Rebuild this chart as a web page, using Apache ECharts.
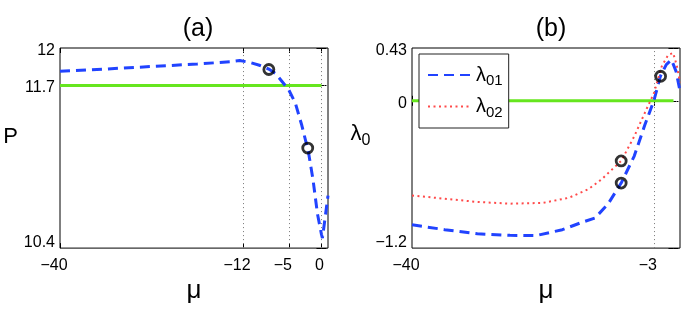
<!DOCTYPE html>
<html>
<head>
<meta charset="utf-8">
<script src="https://cdn.jsdelivr.net/npm/echarts@6/dist/echarts.min.js"></script>
<style>html,body{margin:0;padding:0;background:#fff;}#c{width:691px;height:309px;}</style>
</head>
<body>
<div id="c"></div>
<script>
// ---- data: panel (a)
const muP = [-40, -33, -26, -19, -14, -12.5, -11, -9.5, -8, -7, -6, -5, -4, -3, -2, -1.3, -0.6, 0, 0.15, 0.6, 1];
const P   = [11.814, 11.832, 11.852, 11.872, 11.89, 11.90, 11.885, 11.862, 11.83, 11.795, 11.73, 11.665, 11.56, 11.38, 11.17, 10.95, 10.67, 10.51, 10.48, 10.66, 10.82];
const muRefA = [-40, 0];
const Pref = [11.7, 11.7];
const markA_mu = [-8.05, -2.1];
const markA_P = [11.828, 11.2];
const xTicksA = [-40, -12, -5, 0];
const yTicksA = [10.4, 11.7, 12];
// ---- data: panel (b)
const mu1 = [-40, -35, -30, -25, -21, -17, -14, -12, -10, -8, -6, -4.4, -3, -2, -1.1, -0.3, 0.4, 1];
const L1  = [-1.01, -1.05, -1.083, -1.096, -1.098, -1.05, -0.99, -0.955, -0.84, -0.67, -0.45, -0.2, 0.0, 0.2, 0.295, 0.334, 0.24, 0.08];
const mu2 = [-40, -35, -30, -25, -20, -16, -13, -11, -8, -6, -4.1, -3, -1.8, -0.8, -0.05, 0.5, 1];
const L2  = [-0.771, -0.798, -0.824, -0.838, -0.832, -0.79, -0.72, -0.64, -0.49, -0.29, -0.065, 0.06, 0.28, 0.374, 0.39, 0.29, 0.15];
const muRefB = [-40, 0];
const Lref = [0, 0];
const markB_mu = [-8.0, -8.0, -1.97];
const markB_L = [-0.49, -0.67, 0.2];
const xTicksB = [-40, -3];
const yTicksB = [-1.2, 0, 0.43];
const gridLinesA = [-12, -5, 0];
const gridLinesB = [-3];

const zip = (a, b) => a.map((v, i) => [v, b[i]]);
const FONT = 'Liberation Sans, Arial, Helvetica, sans-serif';
const BLUE = '#2143ff', RED = '#ff4a4a', GREEN = '#66e61e';

function xLabel(v) {
  return v < 0 ? '{n|\u2212' + Math.abs(v) + '}' : '{p|' + v + '}';
}
function yLabelFactory(min) {
  return function (v) {
    const s = v < 0 ? '\u2212' + Math.abs(v) : String(v);
    return Math.abs(v - min) < 1e-9 ? '{lo|' + s + '}' : '{p|' + s + '}';
  };
}
const xRich = {
  n: {fontSize: 16, fontFamily: FONT, color: '#000', padding: [0, 12, 0, 0]},
  p: {fontSize: 16, fontFamily: FONT, color: '#000', padding: [0, 4, 0, 0]}
};
const yRich = {
  p: {fontSize: 16, fontFamily: FONT, color: '#000', padding: [5, 0, 0, 0]},
  lo: {fontSize: 16, fontFamily: FONT, color: '#000', padding: [0, 0, 12, 0]}
};

function mainX(grid, ticks) {
  return {
    type: 'value', gridIndex: grid, min: -40, max: 1, position: 'bottom',
    axisLine: {show: false},
    axisTick: {show: true, inside: true, length: 5, customValues: ticks, lineStyle: {color: '#000'}},
    axisLabel: {show: true, customValues: ticks, formatter: xLabel, margin: 9, rich: xRich},
    splitLine: {show: false},
    name: 'μ', nameLocation: 'middle', nameGap: 27,
    nameTextStyle: {fontSize: 26, fontFamily: FONT, color: '#000'}
  };
}
function topX(grid, ticks) {
  return {
    type: 'value', gridIndex: grid, min: -40, max: 1, position: 'top',
    axisLine: {show: false},
    axisTick: {show: true, inside: true, length: 5, customValues: ticks, lineStyle: {color: '#000'}},
    axisLabel: {show: false}, splitLine: {show: false}
  };
}
function mainY(grid, min, max, ticks, name, gap, pad) {
  return {
    type: 'value', gridIndex: grid, min: min, max: max, position: 'left',
    axisLine: {show: false},
    axisTick: {show: true, inside: true, length: 5, customValues: ticks, lineStyle: {color: '#000'}},
    axisLabel: {show: true, customValues: ticks, formatter: yLabelFactory(min), margin: 5, rich: yRich},
    splitLine: {show: false},
    name: name, nameLocation: 'middle', nameRotate: 0, nameGap: gap,
    nameTextStyle: {fontSize: 22, fontFamily: FONT, color: '#000', padding: [0, 0, pad, 0],
      rich: {l: {fontSize: 22, fontFamily: FONT, color: '#000'},
             s: {fontSize: 16, fontFamily: FONT, color: '#000', padding: [14, 0, 0, 0]}}}
  };
}
function rightY(grid, min, max, ticks) {
  return {
    type: 'value', gridIndex: grid, min: min, max: max, position: 'right',
    axisLine: {show: false},
    axisTick: {show: true, inside: true, length: 5, customValues: ticks, lineStyle: {color: '#000'}},
    axisLabel: {show: false}, splitLine: {show: false}
  };
}
function gridSeries(xi, yi, xs, ys) {
  return {
    type: 'line', xAxisIndex: xi, yAxisIndex: yi, data: [], silent: true, z: 1,
    markLine: {
      silent: true, symbol: ['none', 'none'], label: {show: false}, animation: false, z: 1,
      lineStyle: {type: [1, 3], color: '#777', width: 1},
      data: xs.map(v => ({xAxis: v})).concat(ys.map(v => ({yAxis: v})))
    }
  };
}
const circle = {
  type: 'scatter', symbol: 'circle', symbolSize: 10, z: 5, silent: true,
  itemStyle: {color: 'rgba(0,0,0,0)', borderColor: '#000', borderWidth: 2.8}
};

const chart = echarts.init(document.getElementById('c'));
chart.setOption({
  animation: false,
  backgroundColor: '#fff',
  title: [
    {text: '(a)', left: 193, top: 12, textAlign: 'center', textStyle: {fontSize: 25, fontWeight: 'normal', fontFamily: FONT, color: '#000'}},
    {text: '(b)', left: 546, top: 12, textAlign: 'center', textStyle: {fontSize: 25, fontWeight: 'normal', fontFamily: FONT, color: '#000'}}
  ],
  grid: [
    {left: 60, top: 48, width: 268, height: 204, show: true, borderColor: '#000', borderWidth: 1, backgroundColor: '#fff'},
    {left: 412, top: 48, width: 268, height: 204, show: true, borderColor: '#000', borderWidth: 1, backgroundColor: '#fff'}
  ],
  xAxis: [mainX(0, xTicksA), topX(0, xTicksA), mainX(1, xTicksB), topX(1, xTicksB)],
  yAxis: [mainY(0, 10.4, 12, yTicksA, 'P', 42, 22), rightY(0, 10.4, 12, yTicksA),
          mainY(1, -1.2, 0.43, yTicksB, '{l|λ}{s|0}', 37, 28), rightY(1, -1.2, 0.43, yTicksB)],
  legend: {
    data: ['λ01', 'λ02'], orient: 'vertical', left: 419, top: 54,
    backgroundColor: '#fff', borderColor: '#222', borderWidth: 1,
    padding: [11, 6, 8, 8], itemWidth: 43, itemHeight: 14, itemGap: 8,
    itemStyle: {opacity: 0},
    formatter: n => '{l|λ}{s|' + n.slice(1) + '}',
    textStyle: {rich: {l: {fontSize: 20, fontFamily: FONT, color: '#000'},
                       s: {fontSize: 15, fontFamily: FONT, color: '#000', padding: [12, 0, 0, 0]}}}
  },
  series: [
    gridSeries(0, 0, gridLinesA, [11.7]),
    gridSeries(2, 2, gridLinesB, [0]),
    {type: 'line', name: 'Pref', xAxisIndex: 0, yAxisIndex: 0, data: zip(muRefA, Pref), symbol: 'none', z: 2,
     lineStyle: {color: GREEN, width: 3}},
    {type: 'line', name: 'P', xAxisIndex: 0, yAxisIndex: 0, data: zip(muP, P), symbol: 'none', z: 3,
     lineStyle: {color: BLUE, width: 3, type: [10, 6]}},
    Object.assign({}, circle, {xAxisIndex: 0, yAxisIndex: 0, data: zip(markA_mu, markA_P)}),
    {type: 'line', name: 'Lref', xAxisIndex: 2, yAxisIndex: 2, data: zip(muRefB, Lref), symbol: 'none', z: 2,
     lineStyle: {color: GREEN, width: 3}},
    {type: 'line', name: 'λ01', xAxisIndex: 2, yAxisIndex: 2, data: zip(mu1, L1), symbol: 'none', z: 3,
     color: BLUE, lineStyle: {color: BLUE, width: 3, type: [10, 6]}},
    {type: 'line', name: 'λ02', xAxisIndex: 2, yAxisIndex: 2, data: zip(mu2, L2), symbol: 'none', z: 3,
     color: RED, lineStyle: {color: RED, width: 2, type: [2, 3.5]}},
    Object.assign({}, circle, {xAxisIndex: 2, yAxisIndex: 2, data: zip(markB_mu, markB_L)})
  ]
});
</script>
</body>
</html>
